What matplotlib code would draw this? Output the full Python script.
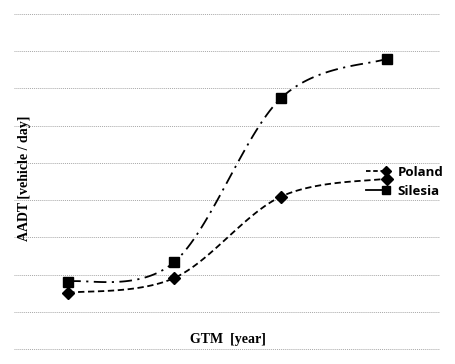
import numpy as np
import matplotlib
matplotlib.use("Agg")
import matplotlib.pyplot as plt
from matplotlib.lines import Line2D
from matplotlib.legend_handler import HandlerLine2DCompound

# data (grid units, no tick values shown in the original)
gtm = [1, 2, 3, 4]
poland = [0.51, 0.91, 3.09, 3.58]
silesia = [0.81, 1.34, 5.73, 6.80]


# Excel-like smooth line: parametric Catmull-Rom through the points
def smooth(x, y, n=40):
    p = np.column_stack([x, y]).astype(float)
    p = np.vstack([p[0], p, p[-1]])
    out = []
    for i in range(1, len(p) - 2):
        p0, p1, p2, p3 = p[i - 1], p[i], p[i + 1], p[i + 2]
        t = np.linspace(0, 1, n)[:, None]
        seg = 0.5 * ((2 * p1) + (-p0 + p2) * t
                     + (2 * p0 - 5 * p1 + 4 * p2 - p3) * t ** 2
                     + (-p0 + 3 * p1 - 3 * p2 + p3) * t ** 3)
        out.append(seg)
    out = np.vstack(out)
    return out[:, 0], out[:, 1]


# legend sample with the marker at the right end of the line
class RightMarker(HandlerLine2DCompound):
    def create_artists(self, legend, orig_handle, xdescent, ydescent,
                       width, height, fontsize, trans):
        arts = super().create_artists(legend, orig_handle, xdescent, ydescent,
                                      width, height, fontsize, trans)
        line, marker = arts[0], arts[1]
        x = line.get_xdata()
        marker.set_xdata([x[-1] - 3])
        marker.set_ydata([marker.get_ydata()[0]])
        return [line, marker]


fig = plt.figure(figsize=(4.55, 3.64), dpi=100)
ax = fig.add_axes([14 / 455, 12 / 364, 426 / 455, 341 / 364])

sx, sy = smooth(gtm, silesia)
px, py = smooth(gtm, poland)

ax.plot(sx, sy, color='black', lw=1.3, dashes=(7, 3, 1.2, 3))
ax.plot(gtm, silesia, 's', color='black', ms=7.5, ls='none')
ax.plot(px, py, color='black', lw=1.3, dashes=(3.5, 2))
ax.plot(gtm, poland, 'D', color='black', ms=6, ls='none')

ax.set_xlim(0.49, 4.5)
ax.set_ylim(-1.08, 8.08)
ax.set_yticks(np.arange(-1, 9))
ax.set_xticks([])
ax.tick_params(left=False, labelleft=False)
ax.grid(axis='y', color='#a8a8a8', ls=(0, (1, 1)), lw=0.7)
for s in ax.spines.values():
    s.set_visible(False)

handles = [Line2D([], [], color='black', lw=1.3, dashes=(2.5, 1.5), marker='D', ms=5),
           Line2D([], [], color='black', lw=1.3, marker='s', ms=5.5)]
leg = ax.legend(handles, ['Poland', 'Silesia'], loc='center left',
                bbox_to_anchor=(366 / 455, 1 - 182 / 364), bbox_transform=fig.transFigure,
                frameon=False, handlelength=1.8, handletextpad=0.6,
                labelspacing=0.45, borderpad=0, borderaxespad=0,
                handler_map={Line2D: RightMarker()},
                prop={'family': 'Open Sans', 'weight': 'bold', 'size': 9.5})

fig.text(228 / 455, 1 - 340 / 364, 'GTM  [year]', ha='center', va='center',
         family='Liberation Serif', weight='bold', fontsize=10)
fig.text(25 / 455, 1 - 178 / 364, 'AADT [vehicle / day]', ha='center', va='center',
         rotation=90, family='Liberation Serif', weight='bold', fontsize=10)

fig.savefig('out.png', dpi=100)
